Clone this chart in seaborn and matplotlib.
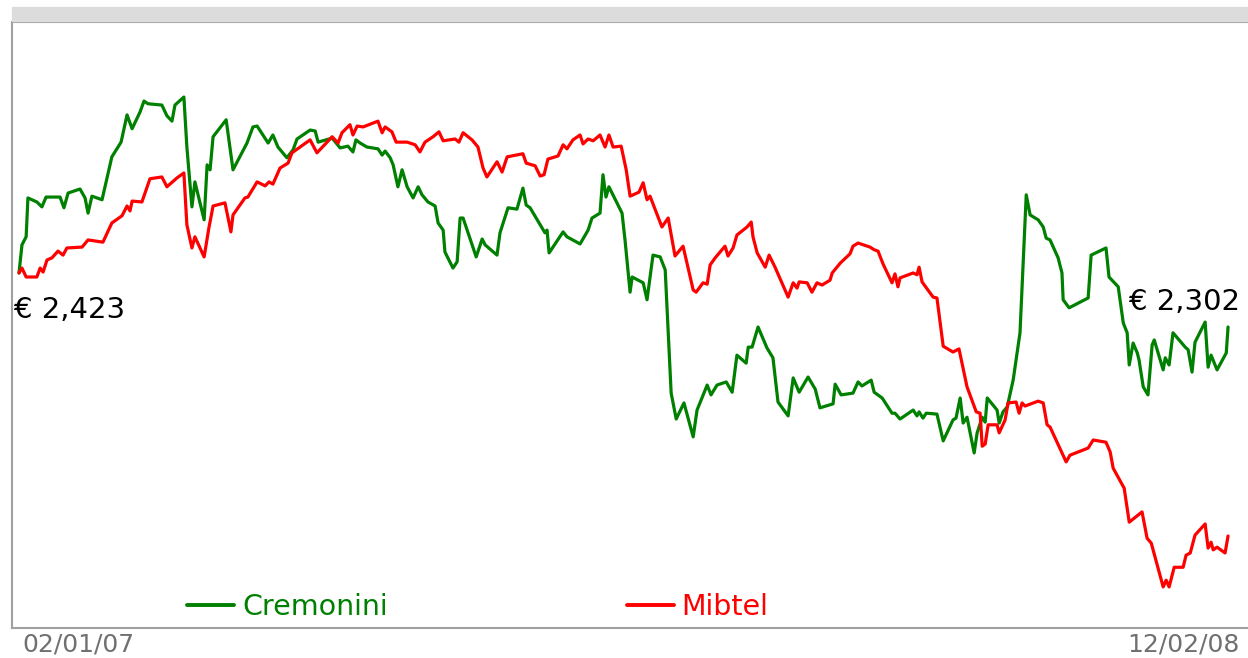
import matplotlib
matplotlib.use("Agg")
import matplotlib.pyplot as plt
import matplotlib.patches as mpatches
import pandas as pd
import numpy as np
import seaborn as sns

# Cremonini share price (EUR) - day offsets from 02/01/07
cremonini_days = [0, 1.0, 2.4, 3.0, 6.0, 7.7, 9.1, 13.8, 15.1, 16.5, 20.5, 22.2, 23.2, 24.5, 27.9,
                  31.2, 34.3, 36.3, 38.0, 40.7, 42.0, 43.3, 48.0, 49.7, 51.4, 52.4, 55.4, 56.4, 58.1,
                  59.1, 62.2, 63.2, 64.2, 65.2, 69.6, 71.9, 76.6, 78.6, 80.0, 83.7, 85.3, 87.0, 90.0,
                  92.1, 93.4, 97.8, 99.5, 100.5, 105.2, 107.9, 110.5, 112.2, 113.2, 114.6, 116.9,
                  120.6, 122.0, 123.0, 124.7, 125.7, 127.3, 128.7, 130.4, 132.4, 134.1, 135.4, 137.4,
                  139.8, 140.8, 142.5, 143.1, 145.8, 147.2, 148.2, 149.2, 153.6, 155.6, 156.6, 160.6,
                  161.6, 164.3, 167.3, 169.3, 170.4, 171.7, 176.7, 177.4, 178.1, 182.8, 184.1, 188.5,
                  191.2, 192.5, 195.2, 196.2, 197.2, 198.2, 202.6, 203.6, 205.3, 206.0, 209.7, 211.0,
                  213.0, 215.4, 217.1, 219.1, 220.8, 223.4, 226.5, 227.8, 231.2, 232.5, 234.5, 237.6,
                  239.6, 241.2, 244.3, 245.0, 246.3, 248.3, 251.3, 253.3, 255.0, 258.4, 260.1, 262.1,
                  265.1, 267.5, 269.1, 273.5, 274.2, 276.2, 280.2, 281.9, 283.2, 286.3, 287.3, 290.0,
                  293.3, 294.3, 296.0, 300.4, 301.7, 302.4, 303.7, 304.8, 308.4, 310.5, 313.8, 314.8,
                  316.2, 317.2, 318.5, 320.9, 321.9, 323.6, 324.6, 325.3, 328.6, 329.3, 330.6, 332.0,
                  334.0, 336.3, 337.3, 338.4, 339.7, 342.4, 344.1, 345.1, 346.4, 349.1, 350.4, 350.8,
                  352.8, 359.2, 360.2, 365.2, 366.2, 369.3, 371.0, 372.3, 373.0, 374.3, 375.7, 376.3,
                  377.7, 379.3, 380.7, 381.4, 384.4, 385.1, 386.4, 387.7, 391.8, 392.8, 394.1, 395.1,
                  398.5, 399.5, 400.5, 402.5, 405.6, 406.2]
cremonini_price = [2.423, 2.486, 2.504, 2.591, 2.582, 2.571, 2.593, 2.593, 2.569, 2.602, 2.611, 2.591,
                   2.557, 2.595, 2.587, 2.683, 2.716, 2.777, 2.746, 2.784, 2.808, 2.802, 2.799, 2.775,
                   2.763, 2.799, 2.817, 2.705, 2.571, 2.627, 2.542, 2.665, 2.654, 2.728, 2.766, 2.654,
                   2.714, 2.750, 2.752, 2.714, 2.732, 2.705, 2.681, 2.699, 2.723, 2.743, 2.741, 2.716,
                   2.725, 2.703, 2.707, 2.694, 2.721, 2.714, 2.705, 2.701, 2.687, 2.696, 2.681, 2.665,
                   2.616, 2.654, 2.616, 2.591, 2.616, 2.598, 2.582, 2.573, 2.535, 2.519, 2.470, 2.434,
                   2.448, 2.546, 2.546, 2.459, 2.499, 2.486, 2.463, 2.513, 2.569, 2.566, 2.613, 2.575,
                   2.569, 2.513, 2.519, 2.468, 2.515, 2.504, 2.488, 2.519, 2.546, 2.557, 2.643, 2.593,
                   2.616, 2.557, 2.497, 2.380, 2.414, 2.401, 2.363, 2.463, 2.459, 2.430, 2.154, 2.096,
                   2.132, 2.056, 2.116, 2.172, 2.150, 2.172, 2.179, 2.156, 2.239, 2.221, 2.257, 2.257,
                   2.302, 2.255, 2.233, 2.134, 2.103, 2.188, 2.156, 2.190, 2.163, 2.121, 2.130, 2.174,
                   2.150, 2.154, 2.179, 2.170, 2.183, 2.156, 2.143, 2.109, 2.109, 2.096, 2.116, 2.103,
                   2.112, 2.098, 2.109, 2.107, 2.047, 2.094, 2.098, 2.143, 2.087, 2.100, 2.020, 2.065,
                   2.100, 2.089, 2.143, 2.116, 2.087, 2.112, 2.123, 2.183, 2.289, 2.436, 2.598, 2.553,
                   2.542, 2.526, 2.501, 2.497, 2.457, 2.423, 2.363, 2.345, 2.367, 2.463, 2.479, 2.414,
                   2.392, 2.311, 2.289, 2.217, 2.266, 2.244, 2.228, 2.168, 2.150, 2.262, 2.273, 2.206,
                   2.233, 2.217, 2.289, 2.257, 2.251, 2.201, 2.268, 2.313, 2.212, 2.239, 2.206, 2.244,
                   2.302]

# Mibtel index rebased on the Cremonini starting price
mibtel_days = [0, 1.0, 2.4, 6.0, 7.1, 8.1, 9.4, 11.1, 13.1, 14.8, 16.1, 21.2, 23.2, 28.2, 31.2, 34.6,
               36.3, 37.3, 38.0, 41.3, 44.0, 48.0, 49.7, 53.1, 55.4, 56.4, 58.1, 59.1, 62.2, 63.8,
               65.2, 69.2, 71.2, 71.9, 75.9, 76.9, 80.0, 82.7, 84.0, 85.3, 87.7, 90.4, 91.7, 97.8,
               100.1, 105.2, 107.2, 108.5, 111.2, 112.2, 113.6, 115.6, 120.6, 122.0, 123.0, 125.3,
               126.7, 130.4, 133.1, 134.7, 136.4, 139.1, 141.1, 142.5, 146.5, 147.8, 149.2, 152.2,
               154.2, 155.9, 157.2, 160.6, 162.3, 164.0, 169.3, 170.4, 173.4, 175.1, 176.4, 177.7,
               181.1, 182.8, 184.1, 186.1, 188.5, 189.5, 191.2, 192.9, 195.2, 196.9, 198.2, 199.6,
               202.3, 204.0, 205.3, 208.3, 209.7, 211.0, 212.0, 216.0, 218.1, 220.4, 223.1, 226.5,
               227.5, 229.8, 231.2, 232.2, 233.9, 237.2, 238.2, 239.9, 241.2, 244.6, 246.0, 246.6,
               248.0, 250.7, 252.0, 254.0, 258.4, 260.1, 261.4, 262.1, 264.8, 266.4, 268.1, 269.8,
               272.5, 273.2, 275.9, 279.2, 280.2, 281.9, 285.9, 287.3, 288.6, 290.3, 293.3, 294.3,
               295.3, 296.0, 300.4, 301.7, 302.4, 303.4, 307.1, 308.4, 310.5, 313.8, 315.8, 318.5,
               321.6, 322.9, 323.6, 324.6, 325.6, 328.6, 329.3, 331.3, 332.3, 335.0, 336.0, 337.0,
               338.0, 342.4, 344.1, 345.4, 346.4, 350.4, 351.8, 353.1, 359.2, 360.9, 365.2, 366.6,
               367.6, 371.3, 373.0, 377.3, 379.0, 380.4, 384.4, 385.4, 386.4, 388.1, 391.1, 392.1,
               393.5, 395.1, 398.5, 399.5, 400.5, 401.2, 402.5, 405.2, 406.2]
mibtel_value = [2.423, 2.434, 2.414, 2.414, 2.434, 2.425, 2.452, 2.457, 2.472, 2.463, 2.479, 2.481,
                2.497, 2.492, 2.535, 2.551, 2.573, 2.562, 2.584, 2.582, 2.634, 2.638, 2.616, 2.636,
                2.647, 2.531, 2.479, 2.504, 2.459, 2.524, 2.573, 2.580, 2.515, 2.553, 2.591, 2.593,
                2.627, 2.618, 2.627, 2.622, 2.658, 2.669, 2.692, 2.721, 2.692, 2.728, 2.714, 2.737,
                2.755, 2.732, 2.752, 2.750, 2.763, 2.737, 2.750, 2.739, 2.716, 2.716, 2.710, 2.694,
                2.716, 2.728, 2.739, 2.719, 2.723, 2.716, 2.737, 2.721, 2.705, 2.658, 2.638, 2.672,
                2.649, 2.683, 2.690, 2.669, 2.663, 2.640, 2.643, 2.678, 2.685, 2.710, 2.701, 2.721,
                2.732, 2.712, 2.723, 2.719, 2.732, 2.705, 2.732, 2.705, 2.707, 2.654, 2.595, 2.604,
                2.625, 2.587, 2.595, 2.526, 2.546, 2.461, 2.483, 2.385, 2.380, 2.401, 2.398, 2.441,
                2.457, 2.483, 2.461, 2.479, 2.508, 2.526, 2.537, 2.504, 2.468, 2.436, 2.463, 2.436,
                2.369, 2.401, 2.389, 2.403, 2.401, 2.380, 2.401, 2.396, 2.407, 2.423, 2.445, 2.466,
                2.483, 2.490, 2.481, 2.475, 2.472, 2.443, 2.401, 2.421, 2.392, 2.412, 2.423, 2.419,
                2.436, 2.403, 2.369, 2.367, 2.259, 2.246, 2.253, 2.168, 2.112, 2.109, 2.035, 2.040,
                2.083, 2.083, 2.065, 2.094, 2.132, 2.134, 2.109, 2.132, 2.125, 2.136, 2.132, 2.083,
                2.078, 2.020, 2.000, 2.015, 2.031, 2.049, 2.044, 2.022, 1.986, 1.941, 1.865, 1.888,
                1.829, 1.818, 1.720, 1.735, 1.720, 1.764, 1.764, 1.791, 1.796, 1.836, 1.861, 1.807,
                1.820, 1.803, 1.809, 1.796, 1.834]

series_names = ["Cremonini", "Mibtel"]
series_colors = ["#008000", "#ff0000"]
start_label = "€ 2,423"
end_label = "€ 2,302"
date_labels = ["02/01/07", "12/02/08"]

start = pd.Timestamp("2007-01-02")
df = pd.concat([
    pd.DataFrame({"date": start + pd.to_timedelta(cremonini_days, unit="D"),
                  "value": cremonini_price, "serie": series_names[0]}),
    pd.DataFrame({"date": start + pd.to_timedelta(mibtel_days, unit="D"),
                  "value": mibtel_value, "serie": series_names[1]}),
])

sns.set_style("white")
plt.rcParams['font.family'] = ['DejaVu Sans']

fig = plt.figure(figsize=(12.48, 6.58), dpi=100)
ax = fig.add_axes([12 / 1248, 30 / 658, 1236 / 1248, 606 / 658])

sns.lineplot(data=df, x="date", y="value", hue="serie", palette=series_colors,
             linewidth=2.3, ax=ax, sort=False, estimator=None)

ax.set_xlim(start - pd.Timedelta(days=2.35), start + pd.Timedelta(days=412.9))
ax.set_ylim(1.628, 2.985)
ax.set_xticks([])
ax.set_yticks([])
ax.set_xlabel(None)
ax.set_ylabel(None)
for side in ["top", "left", "bottom"]:
    ax.spines[side].set_color("#a0a0a0")
    ax.spines[side].set_linewidth(1.5)
ax.spines["right"].set_visible(False)

# grey header band
fig.patches.append(mpatches.Rectangle((12 / 1248, 1 - 21 / 658), 1236 / 1248, 14 / 658,
                                      transform=fig.transFigure, color="#dcdcdc", zorder=0))

# first / last value labels
ax.annotate(start_label, (df["date"].iloc[0], cremonini_price[0]), xytext=(-5, -37),
            textcoords="offset pixels", ha="left", va="center", fontsize=21, color="black")
last = df[df["serie"] == series_names[0]]["date"].iloc[-1]
ax.annotate(end_label, (last, cremonini_price[-1]), xytext=(12, 25),
            textcoords="offset pixels", ha="right", va="center", fontsize=21, color="black")

leg = ax.legend(loc="center left", bbox_to_anchor=(175 / 1236, 21 / 606), ncol=2,
                frameon=False, fontsize=20.5, handlelength=1.65, handletextpad=0.28,
                columnspacing=8.4, borderpad=0, borderaxespad=0, labelcolor="linecolor")
for h in leg.get_lines():
    h.set_linewidth(2.8)

fig.text(22 / 1248, 1 - 644 / 658, date_labels[0], ha="left", va="center",
         fontsize=18, color="#707070")
fig.text(1240 / 1248, 1 - 644 / 658, date_labels[1], ha="right", va="center",
         fontsize=18, color="#707070")

plt.savefig("out.png", dpi=100)
